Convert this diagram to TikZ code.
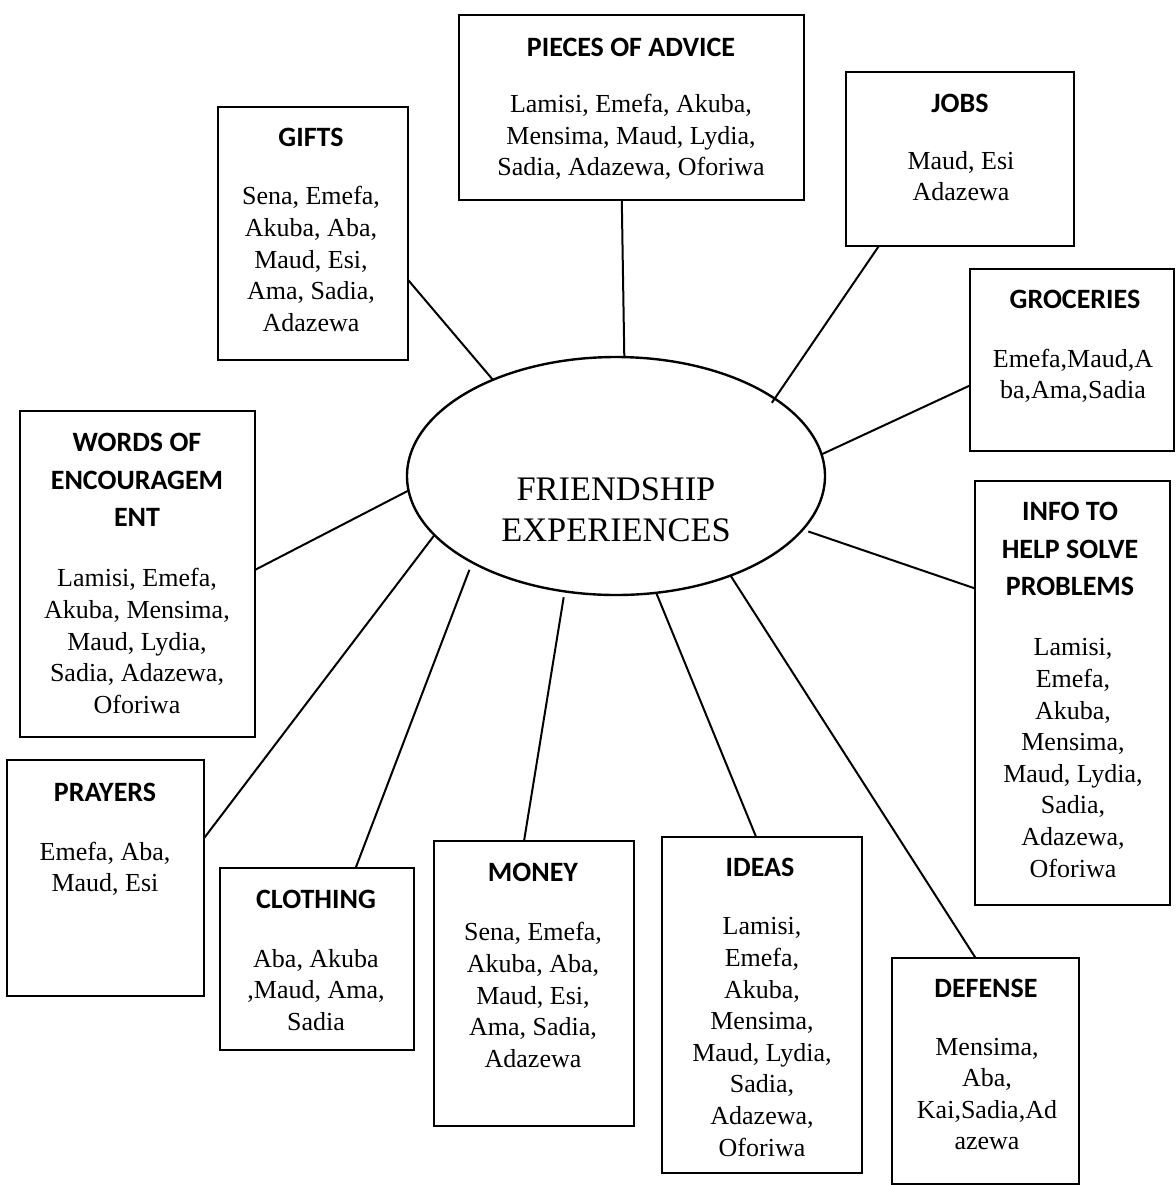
\documentclass[tikz,border=0pt]{standalone}
\usepackage{fontspec}
\setmainfont{Liberation Serif}
\newfontfamily\headfont{Carlito}
\usetikzlibrary{shapes.geometric}
\begin{document}
\begin{tikzpicture}[x=0.5pt,y=-0.5pt,
  box/.style={draw, line width=1.1pt, inner sep=0pt, outer sep=0pt},
  head/.style={font=\headfont\bfseries\fontsize{14}{18.7}\selectfont, align=center, inner sep=0pt},
  names/.style={font=\fontsize{13}{15.8}\selectfont, align=center, inner sep=0pt},
  link/.style={line width=1pt},
  hub/.style={ellipse, draw, line width=1.2pt, minimum width=209pt, minimum height=119pt, inner sep=0pt, outer sep=0pt}]
\useasboundingbox (0,0) rectangle (1176,1185);

% central ellipse
\node[hub] (hub) at (616,476) {};
\node[font=\fontsize{17.2}{20.5}\selectfont, align=center, inner sep=0pt] (hubT) at (616,510) {FRIENDSHIP\\EXPERIENCES};

% category boxes
\node[box, minimum width=172.5pt, minimum height=92.5pt] (pieces) at (631.5,107.5) {};
\node[box, minimum width=95pt, minimum height=126.5pt] (gifts) at (313,233.5) {};
\node[box, minimum width=114pt, minimum height=87pt] (jobs) at (960,159) {};
\node[box, minimum width=102pt, minimum height=91pt] (groc) at (1072,360) {};
\node[box, minimum width=117.5pt, minimum height=163pt] (words) at (137.5,574) {};
\node[box, minimum width=97.5pt, minimum height=212pt] (info) at (1072.5,693) {};
\node[box, minimum width=98.5pt, minimum height=118pt] (prayers) at (105.5,878) {};
\node[box, minimum width=97pt, minimum height=91pt] (clothing) at (317,959) {};
\node[box, minimum width=100pt, minimum height=142.5pt] (money) at (534,983.5) {};
\node[box, minimum width=100pt, minimum height=168pt] (ideas) at (762,1005) {};
\node[box, minimum width=93.5pt, minimum height=113pt] (defense) at (985.5,1071) {};

% titles and names
\node[head] (piecesT) at (631,47) {PIECES OF ADVICE};
\node[names] (piecesN) at (631,137) {Lamisi, Emefa, Akuba,\\Mensima, Maud, Lydia,\\Sadia, Adazewa, Oforiwa};

\node[head] (giftsT) at (311,137) {GIFTS};
\node[names] (giftsN) at (311,259) {Sena, Emefa,\\Akuba, Aba,\\Maud, Esi,\\Ama, Sadia,\\Adazewa};

\node[head] (jobsT) at (960,103) {JOBS};
\node[names] (jobsN) at (961,176) {Maud, Esi\\Adazewa};

\node[head] (grocT) at (1075,299) {GROCERIES};
\node[names] (grocN) at (1073,376) {Emefa,Maud,A\\ba,Ama,Sadia};

\node[head] (wordsT) at (137,480) {WORDS OF\\ENCOURAGEM\\ENT};
\node[names] (wordsN) at (137,641) {Lamisi, Emefa,\\Akuba, Mensima,\\Maud, Lydia,\\Sadia, Adazewa,\\Oforiwa};

\node[head] (infoT) at (1070,549) {INFO TO\\HELP SOLVE\\PROBLEMS};
\node[names] (infoN) at (1073,758) {Lamisi,\\Emefa,\\Akuba,\\Mensima,\\Maud, Lydia,\\Sadia,\\Adazewa,\\Oforiwa};

\node[head] (prayersT) at (105,792) {PRAYERS};
\node[names] (prayersN) at (105,869) {Emefa, Aba,\\Maud, Esi};

\node[head] (clothingT) at (316,899) {CLOTHING};
\node[names] (clothingN) at (316,990) {Aba, Akuba\\,Maud, Ama,\\Sadia};

\node[head] (moneyT) at (533,872) {MONEY};
\node[names] (moneyN) at (533,995) {Sena, Emefa,\\Akuba, Aba,\\Maud, Esi,\\Ama, Sadia,\\Adazewa};

\node[head] (ideasT) at (760,867) {IDEAS};
\node[names] (ideasN) at (762,1037) {Lamisi,\\Emefa,\\Akuba,\\Mensima,\\Maud, Lydia,\\Sadia,\\Adazewa,\\Oforiwa};

\node[head] (defenseT) at (986,988) {DEFENSE};
\node[names] (defenseN) at (987,1094) {Mensima,\\Aba,\\Kai,Sadia,Ad\\azewa};

% spokes from the ellipse to each box
\draw[link] (pieces.264) -- (hub.86);
\draw[link] (gifts.-26) -- (hub.142);
\draw[link, shorten >=-2.5pt] (jobs.-133) -- (hub.26);
\draw[link] (groc.194) -- (hub.6);
\draw[link] (words.2) -- (hub.184);
\draw[link, shorten <=3pt] (hub.-16) -- (info.133);
\draw[link] (prayers.22) -- (hub.198);
\draw[link, shorten >=4pt] (clothing.67) -- (hub.211);
\draw[link, shorten >=3pt] (money.94) -- (hub.246);
\draw[link] (ideas.92) -- (hub.-71);
\draw[link] (defense.95) -- (hub.-41);
\end{tikzpicture}
\end{document}
